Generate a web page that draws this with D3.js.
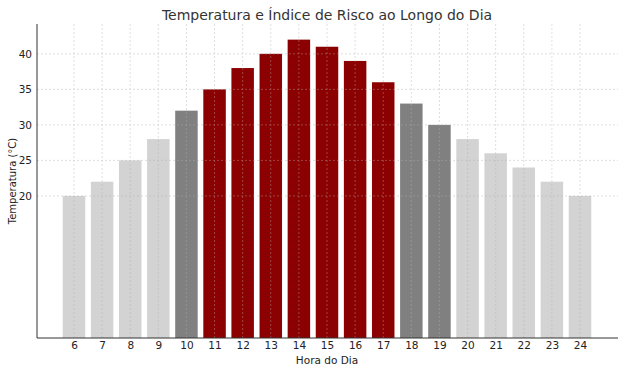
<!DOCTYPE html>
<html><head><meta charset="utf-8">
<script src="https://cdn.jsdelivr.net/npm/d3@7"></script>
<style>body{margin:0;background:#fff;} svg{display:block;font-family:"DejaVu Sans",sans-serif;}</style>
</head><body><svg id="c" width="624" height="372"></svg>
<script>
const hours = [6,7,8,9,10,11,12,13,14,15,16,17,18,19,20,21,22,23,24];
const temps = [20,22,25,28,32,35,38,40,42,41,39,36,33,30,28,26,24,22,20];
const yTicks = [20,25,30,35,40];
const colorFor = t => t >= 35 ? "#8b0000" : (t >= 30 ? "#808080" : "#d3d3d3");

const svg = d3.select("#c");
const L = 37, R = 618, T = 24, B = 338;
const x = d3.scaleLinear().domain([6,24]).range([74,580]);
const y = d3.scaleLinear().domain([0,44.2]).range([B,T]);
const bw = (x(7)-x(6))*0.8;

svg.append("g").selectAll("rect").data(hours).join("rect")
  .attr("x", (h)=>x(h)-bw/2).attr("width", bw)
  .attr("y", (h,i)=>y(temps[i])).attr("height", (h,i)=>y(0)-y(temps[i]))
  .attr("fill", (h,i)=>colorFor(temps[i]));

// grid
const g = svg.append("g").attr("stroke","#b0b0b0").attr("stroke-dasharray","2,2").attr("stroke-width",0.8).attr("opacity",0.5);
g.selectAll(".v").data(hours).join("line").attr("x1",d=>x(d)).attr("x2",d=>x(d)).attr("y1",T).attr("y2",B);
g.selectAll(".h").data(yTicks).join("line").attr("x1",L).attr("x2",R).attr("y1",d=>y(d)).attr("y2",d=>y(d));

// axes
const xa = svg.append("g").attr("transform",`translate(0,${B})`)
  .call(d3.axisBottom(x).tickValues(hours).tickSize(0).tickPadding(4).tickFormat(d3.format("d")));
xa.select(".domain").remove();
xa.selectAll("text").attr("font-size",10.5).attr("fill","#222").attr("font-family","DejaVu Sans");
const ya = svg.append("g").attr("transform",`translate(${L},0)`)
  .call(d3.axisLeft(y).tickValues(yTicks).tickSize(0).tickPadding(5));
ya.select(".domain").remove();
ya.selectAll("text").attr("font-size",10.5).attr("fill","#222").attr("font-family","DejaVu Sans");

svg.append("line").attr("x1",L).attr("x2",L).attr("y1",T).attr("y2",B).attr("stroke","#333").attr("stroke-width",1);
svg.append("line").attr("x1",L).attr("x2",R).attr("y1",B).attr("y2",B).attr("stroke","#333").attr("stroke-width",1);

svg.append("text").attr("x",327).attr("y",20).attr("text-anchor","middle").attr("font-size",14).attr("fill","#333")
  .text("Temperatura e Índice de Risco ao Longo do Dia");
svg.append("text").attr("x",327).attr("y",364).attr("text-anchor","middle").attr("font-size",10.5).attr("fill","#222")
  .text("Hora do Dia");
svg.append("text").attr("transform","translate(16,181) rotate(-90)").attr("text-anchor","middle").attr("font-size",10).attr("fill","#222")
  .text("Temperatura (°C)");
</script></body></html>
